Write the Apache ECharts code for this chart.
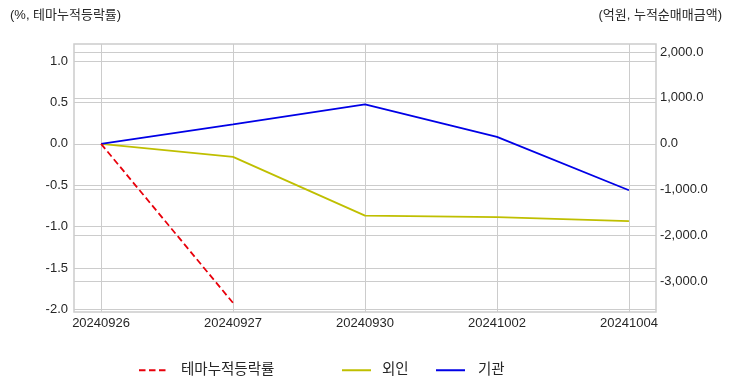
<!DOCTYPE html>
<html>
<head>
<meta charset="utf-8">
<script src="https://cdn.jsdelivr.net/npm/echarts@6/dist/echarts.min.js"></script>
<style>html,body{margin:0;padding:0;background:#fff}#c{width:732px;height:392px}</style>
</head>
<body>
<div id="c"></div>
<script>
const categories = ['20240926', '20240927', '20240930', '20241002', '20241004'];
const themeReturn = [0, -1.92, null, null, null];
const foreign = [0, -283, -1565, -1598, -1685];
const institution = [0, 424, 859, 152, -1011];
const leftTicks = [-2.0, -1.5, -1.0, -0.5, 0.0, 0.5, 1.0];
const rightTicks = [-3000, -2000, -1000, 0, 1000, 2000];

const FONT = '"Liberation Sans", "Noto Sans CJK KR", sans-serif';
const TXT = '#262626';
const GRID = '#cccccc';
const idx = categories.map((_, i) => i);
const pairs = arr => arr.map((v, i) => [i, v]);
const noSym = {color: 'rgba(0,0,0,0)', borderColor: 'rgba(0,0,0,0)', borderWidth: 0};

const chart = echarts.init(document.getElementById('c'), null, {renderer: 'canvas'});
chart.setOption({
  animation: false,
  textStyle: {fontFamily: FONT, color: TXT},
  title: [
    {text: '(%, 테마누적등락률)', left: 10, top: 9, padding: 0, textStyle: {fontSize: 13, fontWeight: 'normal', color: TXT, fontFamily: FONT}},
    {text: '(억원, 누적순매매금액)', right: 10, top: 9, padding: 0, textStyle: {fontSize: 13, fontWeight: 'normal', color: TXT, fontFamily: FONT}}
  ],
  grid: {left: 74, right: 76, top: 44, bottom: 80, show: true, borderColor: GRID, borderWidth: 1.5, containLabel: false},
  legend: [
    {data: ['테마누적등락률'], left: 138, top: 363, padding: 0, itemWidth: 29, itemHeight: 14, itemStyle: noSym, textStyle: {fontSize: 14.5, color: TXT, fontFamily: FONT, padding: [0, 0, 0, 8]}},
    {data: ['외인'], left: 341, top: 363, padding: 0, itemWidth: 29, itemHeight: 14, itemStyle: noSym, textStyle: {fontSize: 14.5, color: TXT, fontFamily: FONT, padding: [0, 0, 0, 6]}},
    {data: ['기관'], left: 435, top: 363, padding: 0, itemWidth: 29, itemHeight: 14, itemStyle: noSym, textStyle: {fontSize: 14.5, color: TXT, fontFamily: FONT, padding: [0, 0, 0, 8]}}
  ],
  xAxis: {
    type: 'value', min: -0.205, max: 4.205,
    axisLine: {show: false}, axisTick: {show: false, customValues: idx},
    axisLabel: {customValues: idx, formatter: v => categories[Math.round(v)], fontSize: 13, color: TXT, margin: 5, fontFamily: FONT},
    splitLine: {show: true, lineStyle: {color: GRID, width: 1}}
  },
  yAxis: [
    {
      type: 'value', min: -2.03, max: 1.205, position: 'left',
      axisLine: {show: false}, axisTick: {show: false, customValues: leftTicks},
      axisLabel: {customValues: leftTicks, formatter: v => v.toFixed(1), fontSize: 13, color: TXT, margin: 6, fontFamily: FONT},
      splitLine: {show: true, lineStyle: {color: GRID, width: 1}}
    },
    {
      type: 'value', min: -3663, max: 2174, position: 'right',
      axisLine: {show: false}, axisTick: {show: false, customValues: rightTicks},
      axisLabel: {customValues: rightTicks, formatter: v => v.toLocaleString('en-US', {minimumFractionDigits: 1, maximumFractionDigits: 1}), fontSize: 13, color: TXT, margin: 4, fontFamily: FONT},
      splitLine: {show: true, lineStyle: {color: GRID, width: 1}}
    }
  ],
  series: [
    {name: '테마누적등락률', type: 'line', yAxisIndex: 0, data: pairs(themeReturn), symbol: 'none', connectNulls: false,
     lineStyle: {color: '#e8000b', width: 1.8, type: [6.5, 3.5]}, itemStyle: {color: '#e8000b'}, z: 5},
    {name: '외인', type: 'line', yAxisIndex: 1, data: pairs(foreign), symbol: 'none',
     lineStyle: {color: '#bfbf00', width: 1.8}, itemStyle: {color: '#bfbf00'}},
    {name: '기관', type: 'line', yAxisIndex: 1, data: pairs(institution), symbol: 'none',
     lineStyle: {color: '#0000e6', width: 1.8}, itemStyle: {color: '#0000e6'}}
  ]
});
</script>
</body>
</html>
